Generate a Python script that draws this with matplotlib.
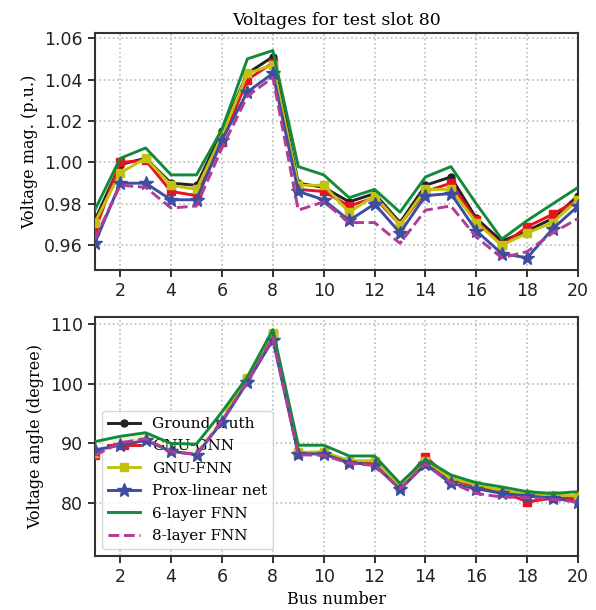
import matplotlib
matplotlib.use("Agg")
import matplotlib.pyplot as plt
import numpy as np

bus = np.arange(1, 21)

# voltage magnitude (p.u.)
vm_truth = [0.972, 0.999, 1.002, 0.990, 0.989, 1.015, 1.043, 1.051, 0.990, 0.988,
            0.981, 0.985, 0.971, 0.989, 0.993, 0.973, 0.962, 0.967, 0.973, 0.984]
vm_gnu_gnn = [0.967, 1.000, 1.001, 0.986, 0.984, 1.010, 1.040, 1.048, 0.987, 0.986,
              0.979, 0.983, 0.970, 0.986, 0.990, 0.972, 0.960, 0.969, 0.975, 0.982]
vm_gnu_fnn = [0.971, 0.995, 1.002, 0.989, 0.987, 1.013, 1.043, 1.047, 0.989, 0.989,
              0.976, 0.984, 0.970, 0.987, 0.987, 0.971, 0.960, 0.966, 0.971, 0.982]
vm_prox = [0.961, 0.990, 0.990, 0.982, 0.982, 1.011, 1.034, 1.043, 0.986, 0.982,
           0.972, 0.980, 0.966, 0.984, 0.985, 0.967, 0.956, 0.954, 0.968, 0.979]
vm_fnn6 = [0.977, 1.002, 1.007, 0.994, 0.994, 1.016, 1.050, 1.054, 0.998, 0.994,
           0.983, 0.987, 0.976, 0.993, 0.998, 0.980, 0.963, 0.972, 0.980, 0.988]
vm_fnn8 = [0.963, 0.989, 0.988, 0.978, 0.979, 1.007, 1.032, 1.041, 0.977, 0.981,
           0.971, 0.971, 0.961, 0.977, 0.979, 0.964, 0.954, 0.957, 0.966, 0.973]

# voltage angle (degree)
va_truth = [88.1, 90.3, 91.0, 88.9, 88.4, 94.1, 100.9, 108.4, 88.3, 88.4,
            86.9, 86.6, 82.7, 87.0, 83.9, 82.9, 81.9, 81.2, 80.9, 80.7]
va_gnu_gnn = [88.1, 90.3, 91.0, 88.9, 88.4, 94.1, 100.9, 108.4, 88.3, 88.4,
              86.9, 86.6, 82.7, 87.8, 83.9, 82.9, 81.9, 80.2, 80.8, 80.8]
va_gnu_fnn = [88.4, 90.6, 91.2, 89.1, 88.6, 94.3, 101.0, 108.6, 88.5, 88.6,
              87.1, 87.1, 82.9, 87.1, 84.1, 83.1, 82.1, 81.5, 81.3, 81.2]
va_prox = [88.9, 89.7, 90.5, 88.7, 88.1, 93.6, 100.3, 107.4, 88.3, 88.2,
           86.8, 86.4, 82.3, 86.5, 83.3, 82.4, 81.6, 81.2, 80.8, 80.2]
va_fnn6 = [90.3, 91.2, 91.8, 90.0, 89.9, 95.3, 101.2, 109.1, 89.7, 89.7,
           87.9, 87.9, 83.3, 87.3, 84.7, 83.4, 82.7, 81.9, 81.6, 81.9]
va_fnn8 = [88.0, 90.1, 90.8, 88.6, 88.2, 93.8, 100.4, 107.8, 88.1, 88.0,
           86.7, 86.3, 82.4, 86.6, 83.4, 81.6, 81.0, 80.9, 80.6, 80.2]

labels = ["Ground truth", "GNU-GNN", "GNU-FNN", "Prox-linear net", "6-layer FNN", "8-layer FNN"]
styles = [
    dict(color="#222222", marker="o", ms=5, ls="-"),
    dict(color="#e8141c", marker="s", ms=6, ls="-"),
    dict(color="#c2c20c", marker="s", ms=6, ls="-"),
    dict(color="#3d4ea0", marker="*", ms=10, ls="-"),
    dict(color="#128a3a", marker=None, ms=0, ls="-"),
    dict(color="#b03c96", marker=None, ms=0, ls="--"),
]

plt.rcParams["font.family"] = "DejaVu Sans"
serif = "DejaVu Serif"

fig = plt.figure(figsize=(5.96, 6.10), dpi=100)
ax1 = fig.add_axes([0.159, 0.557, 0.811, 0.389])
ax2 = fig.add_axes([0.159, 0.0885, 0.811, 0.3915])

vm_series = [vm_truth, vm_gnu_gnn, vm_gnu_fnn, vm_prox, vm_fnn6, vm_fnn8]
va_series = [va_truth, va_gnu_gnn, va_gnu_fnn, va_prox, va_fnn6, va_fnn8]
order = [4, 5, 0, 2, 1, 3]

for ax, series in [(ax1, vm_series), (ax2, va_series)]:
    for i in order:
        st = styles[i]
        ax.plot(bus, series[i], color=st["color"], marker=st["marker"],
                markersize=st["ms"], linestyle=st["ls"], linewidth=2.1,
                label=labels[i], zorder=3 + i)
    ax.set_xlim(1, 20)
    ax.set_xticks(np.arange(2, 21, 2))
    ax.grid(True, linestyle=":", color="#bbbbbb", linewidth=1.2)
    ax.tick_params(direction="out", length=5, width=1.3, labelsize=12.5,
                   colors="#222222")
    for s in ax.spines.values():
        s.set_linewidth(1.5)
        s.set_color("#333333")

ax1.set_ylim(0.948, 1.0625)
ax1.set_yticks([0.96, 0.98, 1.00, 1.02, 1.04, 1.06])
ax1.set_yticklabels(["0.96", "0.98", "1.00", "1.02", "1.04", "1.06"])
ax1.set_ylabel("Voltage mag. (p.u.)", family=serif, fontsize=11.5)
ax1.set_title("Voltages for test slot 80", family=serif, fontsize=12.5)

ax2.set_ylim(71.1, 111.2)
ax2.set_yticks([80, 90, 100, 110])
ax2.set_ylabel("Voltage angle (degree)", family=serif, fontsize=11.5)
ax2.set_xlabel("Bus number", family=serif, fontsize=11.5)

handles, labs = ax2.get_legend_handles_labels()
hmap = dict(zip(labs, handles))
ax2.legend([hmap[l] for l in labels], labels, loc="lower left",
           prop={"family": serif, "size": 11}, numpoints=1,
           handlelength=2.1, handletextpad=0.8, framealpha=0.8,
           borderaxespad=0.45, labelspacing=0.55)

fig.savefig("out.png", dpi=100)
